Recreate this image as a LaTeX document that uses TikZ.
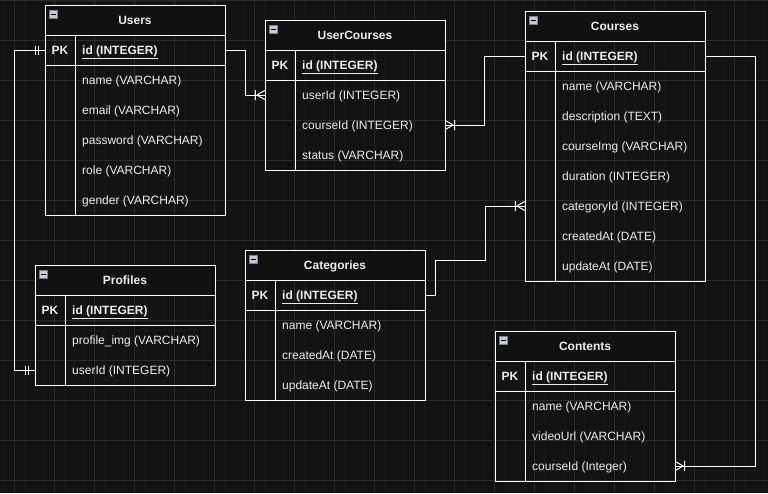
\documentclass[tikz,border=0pt]{standalone}
\usepackage{fontspec}
\setmainfont{Liberation Sans}
\usetikzlibrary{calc}
\definecolor{bgc}{RGB}{18,18,18}
\definecolor{gridminor}{RGB}{24,24,24}
\definecolor{gridmajor}{RGB}{44,44,44}
\definecolor{hdr}{RGB}{17,17,17}
\definecolor{txt}{RGB}{238,238,238}
\definecolor{iconfill}{RGB}{200,204,214}
\definecolor{iconline}{RGB}{120,128,144}
\tikzset{
  tbl/.style={draw=white,line width=1pt},
  conn/.style={draw=white,line width=1pt},
  rowbox/.style={draw=none,inner sep=0pt,minimum width=180pt,minimum height=30pt},
  titlebox/.style={inner sep=0pt,text=txt,font=\fontsize{12}{14}\selectfont\bfseries,text height=8.6pt,text depth=0pt},
  pktext/.style={inner sep=0pt,text=txt,font=\fontsize{12}{14}\selectfont\bfseries,text height=8.6pt,text depth=0pt},
  fieldtext/.style={anchor=west,inner sep=0pt,text=txt,font=\fontsize{12}{14}\selectfont,text height=8.6pt,text depth=0pt},
}
% #1 id, #2 left, #3 top, #4 title, #5 fields, #6 number of fields
\newcommand\ertable[6]{%
  \fill[hdr] (#2,#3) rectangle ++(180,30);
  \draw[tbl] (#2,#3) rectangle ++(180,60+30*#6);
  \draw[tbl] (#2,#3+30) -- ++(180,0);
  \draw[tbl] (#2,#3+60) -- ++(180,0);
  \draw[tbl] (#2+30,#3+30) -- (#2+30,#3+60+30*#6);
  \draw[draw=iconline,fill=iconfill,line width=0.6pt] (#2+4.5,#3+5.5) rectangle ++(8,8);
  \draw[black,line width=1.3pt] (#2+6,#3+9.5) -- ++(5,0);
  \node[titlebox] (#1-title) at (#2+90,#3+15) {#4};
  \node[rowbox] (#1-r0) at (#2+90,#3+45) {};
  \node[pktext] (#1-pk) at (#2+15,#3+45) {PK};
  \node[fieldtext,font=\fontsize{12}{14}\selectfont\bfseries] (#1-f0) at (#2+37,#3+45) {\underline{id (INTEGER)}};
  \foreach \f [count=\k] in {#5} {
    \node[rowbox] (#1-r\k) at (#2+90,#3+45+30*\k) {};
    \node[fieldtext] (#1-f\k) at (#2+37,#3+45+30*\k) {\f};
  }
}
% crow's foot (one-to-many), #2 = direction away from entity (+1 right, -1 left)
\newcommand\manymark[2]{%
  \draw[conn] ($(#1)+(#2*8,0)$) -- ($(#1)+(0,-4.5)$)
              ($(#1)+(#2*8,0)$) -- ($(#1)+(0,4.5)$)
              ($(#1)+(#2*9.5,-5)$) -- ($(#1)+(#2*9.5,5)$);
}
\newcommand\onemark[2]{%
  \draw[conn] ($(#1)+(#2*6,-4.5)$) -- ($(#1)+(#2*6,4.5)$)
              ($(#1)+(#2*9,-4.5)$) -- ($(#1)+(#2*9,4.5)$);
}
\begin{document}
\begin{tikzpicture}[x=1pt,y=-1pt]
  \useasboundingbox (0,0) rectangle (768,493);
  \fill[bgc] (0,0) rectangle (768,493);
  % grid
  \foreach \gx in {4.3,14.3,...,768} { \draw[gridminor,line width=0.6pt] (\gx,0) -- (\gx,493); }
  \foreach \gy in {10.3,20.3,...,493} { \draw[gridminor,line width=0.6pt] (0,\gy) -- (768,\gy); }
  \foreach \gx in {14.3,54.3,...,768} { \draw[gridmajor,line width=0.8pt] (\gx,0) -- (\gx,493); }
  \foreach \gy in {0.3,40.3,...,493} { \draw[gridmajor,line width=0.8pt] (0,\gy) -- (768,\gy); }

  \ertable{users}{45}{5}{Users}{name (VARCHAR),email (VARCHAR),password (VARCHAR),role (VARCHAR),gender (VARCHAR)}{5}
  \ertable{uc}{265}{20}{UserCourses}{userId (INTEGER),courseId (INTEGER),status (VARCHAR)}{3}
  \ertable{courses}{525}{11}{Courses}{name (VARCHAR),description (TEXT),courseImg (VARCHAR),duration (INTEGER),categoryId (INTEGER),createdAt (DATE),updateAt (DATE)}{7}
  \ertable{prof}{35}{265}{Profiles}{profile\_img (VARCHAR),userId (INTEGER)}{2}
  \ertable{cat}{245}{250}{Categories}{name (VARCHAR),createdAt (DATE),updateAt (DATE)}{3}
  \ertable{contents}{495}{331}{Contents}{name (VARCHAR),videoUrl (VARCHAR),courseId (Integer)}{3}

  % connectors
  \draw[conn] (users-r0.east) -- ++(20,0) |- (uc-r1.west);
  \draw[conn] (uc-r2.east) -- ++(39,0) |- (courses-r0.west);
  \draw[conn] (cat-r0.east) -- ++(10,0) -- ++(0,-35) -- ++(50,0) |- (courses-r5.west);
  \draw[conn] (courses-r0.east) -- ++(50,0) |- (contents-r3.east);
  \draw[conn] (users-r0.west) -- ++(-30,0) |- (prof-r2.west);

  \manymark{uc-r1.west}{-1}
  \manymark{uc-r2.east}{1}
  \manymark{courses-r5.west}{-1}
  \manymark{contents-r3.east}{1}
  \onemark{users-r0.west}{-1}
  \onemark{prof-r2.west}{-1}
\end{tikzpicture}
\end{document}
